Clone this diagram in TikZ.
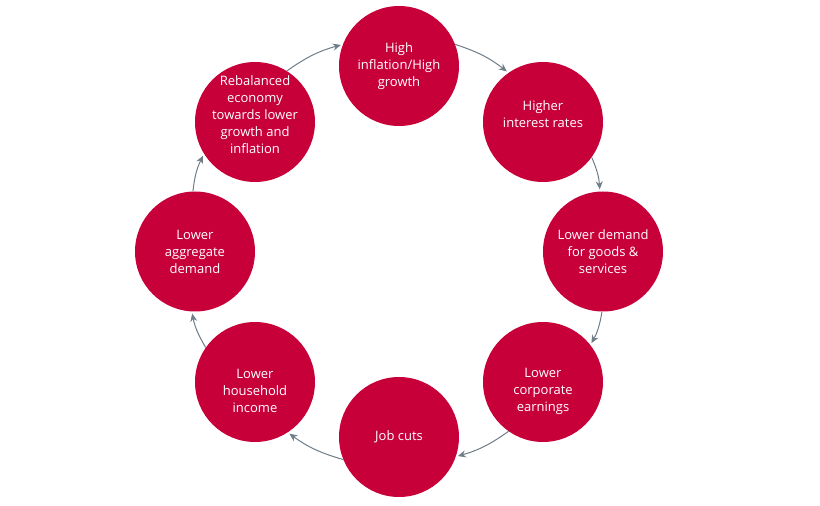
\documentclass[tikz,border=0pt]{standalone}
\usepackage{fontspec}
\setmainfont{Open Sans}
\usetikzlibrary{arrows.meta}
\definecolor{crim}{RGB}{200,0,58}
\definecolor{arrgray}{RGB}{110,125,135}
\tikzset{
  stage/.style={circle, fill=crim, draw=none, minimum size=120pt, inner sep=0pt,
    text=white, align=center, font=\fontsize{13}{17}\selectfont},
  txt/.style={text=white, align=center, font=\fontsize{13}{17}\selectfont, inner sep=0pt},
  arr/.style={draw=arrgray, line width=1pt, shorten >=2pt,
    -{Stealth[length=8pt,width=7pt]}},
}
\begin{document}
\begin{tikzpicture}[x=1pt,y=1pt]
\useasboundingbox (0,0) rectangle (820,506);
\node[stage] (n1) at (399,440) {High\\inflation/High\\growth};
\node[stage, label={[txt,yshift=8pt]center:{Higher\\interest rates}}] (n2) at (543,384) {};
\node[stage] (n3) at (603,254.5) {Lower demand\\for goods \&\\services};
\node[stage, label={[txt,yshift=-9pt]center:{Lower\\corporate\\earnings}}] (n4) at (543,124) {};
\node[stage] (n5) at (399,69) {Job cuts};
\node[stage, label={[txt,yshift=-9pt]center:{Lower\\household\\income}}] (n6) at (255,124) {};
\node[stage] (n7) at (195,254.5) {Lower\\aggregate\\demand};
\node[stage, label={[txt,yshift=7pt]center:{Rebalanced\\economy\\towards lower\\growth and\\inflation}}] (n8) at (255,384) {};
\draw[arr] (n1.21) to[bend left=10] (n2.125);
\draw[arr] (n2.-36) to[bend left=10] (n3.93);
\draw[arr] (n3.-91) to[bend left=10] (n4.38);
\draw[arr] (n4.-125) to[bend left=10] (n5.-19);
\draw[arr] (n5.-158) to[bend left=10] (n6.-57);
\draw[arr] (n6.145) to[bend left=10] (n7.-93);
\draw[arr] (n7.92) to[bend left=10] (n8.-148);
\draw[arr] (n8.58) to[bend left=10] (n1.159);
\end{tikzpicture}
\end{document}
